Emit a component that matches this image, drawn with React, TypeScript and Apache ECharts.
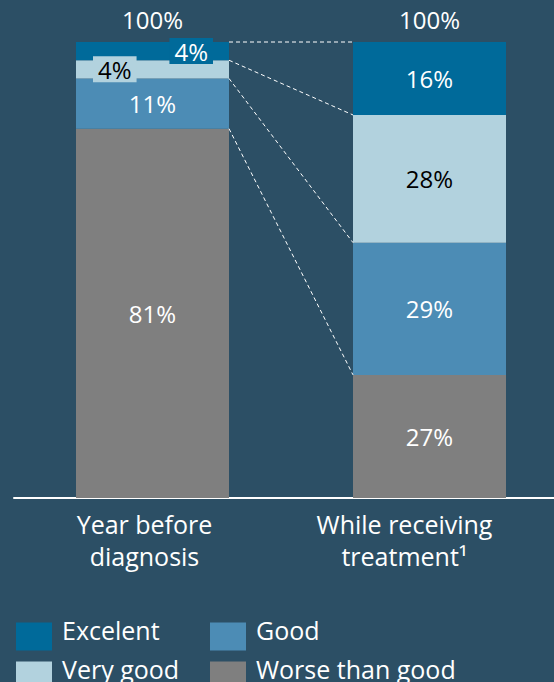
import React, { useEffect, useRef } from "react";
import * as echarts from "echarts";

const categories = ["Year before\ndiagnosis", "While receiving\ntreatment¹"];
const excelent = [4, 16];
const veryGood = [4, 28];
const good = [11, 29];
const worse = [81, 27];
const totals = [100, 100];
const legendNames = ["Excelent", "Good", "Very good", "Worse than good"];

const BG = "#2c4f65";
const C_EXC = "#006a9a";
const C_VG = "#b2d2de";
const C_GOOD = "#4c8cb5";
const C_WORSE = "#7f7f7f";
const FONT = "'Open Sans', sans-serif";
const BAR_W = 153;
const LBL_SIZE = 24;
const TXT_SIZE = 25;

export default function App() {
  const ref = useRef<HTMLDivElement>(null);
  useEffect(() => {
    document.body.style.margin = "0";
    document.body.style.background = BG;
    const chart = echarts.init(ref.current!, null, { renderer: "svg" });

    const cum = (arrs: number[][], i: number) => {
      const out: number[] = [];
      let s = 0;
      arrs.forEach((a) => {
        s += a[i];
        out.push(s);
      });
      return out;
    };
    const order = [worse, good, veryGood, excelent];
    const cl = cum(order, 0);
    const cr = cum(order, 1);
    const connectors = cl.map((v, k) => [0, v, cr[k]]);

    const lbl = (color: string) => ({
      show: true,
      position: "inside" as const,
      color,
      fontSize: LBL_SIZE,
      fontFamily: FONT,
      formatter: "{c}%",
    });

    const legendPos = [
      { left: 16, top: 617 },
      { left: 210, top: 617 },
      { left: 16, top: 656 },
      { left: 210, top: 656 },
    ];
    const legends = legendNames.map((n, i) => ({
      data: [n],
      left: legendPos[i].left,
      top: legendPos[i].top,
      padding: 0,
      itemWidth: 36,
      itemHeight: 28,
      icon: "rect",
      formatter: "{t|{name}}",
      textStyle: {
        color: "#ffffff",
        fontSize: TXT_SIZE,
        fontFamily: FONT,
        rich: {
          t: {
            color: "#ffffff",
            fontSize: TXT_SIZE,
            fontFamily: FONT,
            padding: [0, 0, 14, 5],
          },
        },
      },
    }));

    const labelShift = [16, 50];

    chart.setOption({
      animation: false,
      backgroundColor: BG,
      grid: { left: 14, top: 42, width: 554, bottom: 184, outerBoundsMode: "none", containLabel: false },
      xAxis: {
        type: "category",
        data: categories.map((c, i) => ({
          value: c,
          textStyle: { padding: [0, labelShift[i], 0, 0] },
        })),
        axisLine: { lineStyle: { color: "#ffffff", width: 2 } },
        axisTick: { show: false },
        axisLabel: {
          color: "#ffffff",
          fontSize: TXT_SIZE,
          fontFamily: FONT,
          lineHeight: 32,
          margin: 10,
        },
      },
      yAxis: { type: "value", min: 0, max: 100, show: false },
      legend: legends,
      series: [
        {
          name: "Worse than good",
          type: "bar",
          stack: "a",
          barWidth: BAR_W,
          data: worse,
          itemStyle: { color: C_WORSE },
          label: lbl("#ffffff"),
        },
        {
          name: "Good",
          type: "bar",
          stack: "a",
          barWidth: BAR_W,
          data: good,
          itemStyle: { color: C_GOOD },
          label: lbl("#ffffff"),
        },
        {
          name: "Very good",
          type: "bar",
          stack: "a",
          barWidth: BAR_W,
          data: [
            {
              value: veryGood[0],
              label: {
                ...lbl("#000000"),
                position: "insideLeft",
                distance: 17,
                backgroundColor: C_VG,
                padding: [1, 5],
              },
            },
            veryGood[1],
          ],
          itemStyle: { color: C_VG },
          label: lbl("#000000"),
        },
        {
          name: "Excelent",
          type: "bar",
          stack: "a",
          barWidth: BAR_W,
          data: [
            {
              value: excelent[0],
              label: {
                ...lbl("#ffffff"),
                position: "insideRight",
                distance: 16,
                backgroundColor: C_EXC,
                padding: [1, 5],
              },
            },
            excelent[1],
          ],
          itemStyle: { color: C_EXC },
          label: lbl("#ffffff"),
        },
        {
          type: "custom",
          silent: true,
          z: 5,
          encode: { x: 0, y: 1 },
          data: connectors,
          renderItem: (params: any, api: any) => {
            const p0 = api.coord([0, api.value(1)]);
            const p1 = api.coord([1, api.value(2)]);
            return {
              type: "line",
              shape: { x1: p0[0] + BAR_W / 2, y1: p0[1], x2: p1[0] - BAR_W / 2, y2: p1[1] },
              style: { stroke: "#ffffff", lineWidth: 1, lineDash: [4, 3] },
            };
          },
        },
        {
          type: "custom",
          silent: true,
          z: 6,
          encode: { x: 0, y: 1 },
          data: totals.map((t, i) => [i, t]),
          renderItem: (params: any, api: any) => {
            const p = api.coord([api.value(0), api.value(1)]);
            return {
              type: "text",
              x: p[0],
              y: p[1] - 23,
              style: {
                text: api.value(1) + "%",
                fill: "#ffffff",
                fontSize: LBL_SIZE,
                fontFamily: FONT,
                align: "center",
                verticalAlign: "middle",
              },
            };
          },
        },
      ],
    });
    return () => chart.dispose();
  }, []);
  return (
    <div
      ref={ref}
      style={{ position: "fixed", left: 0, top: 0, width: 554, height: 682 }}
    />
  );
}
